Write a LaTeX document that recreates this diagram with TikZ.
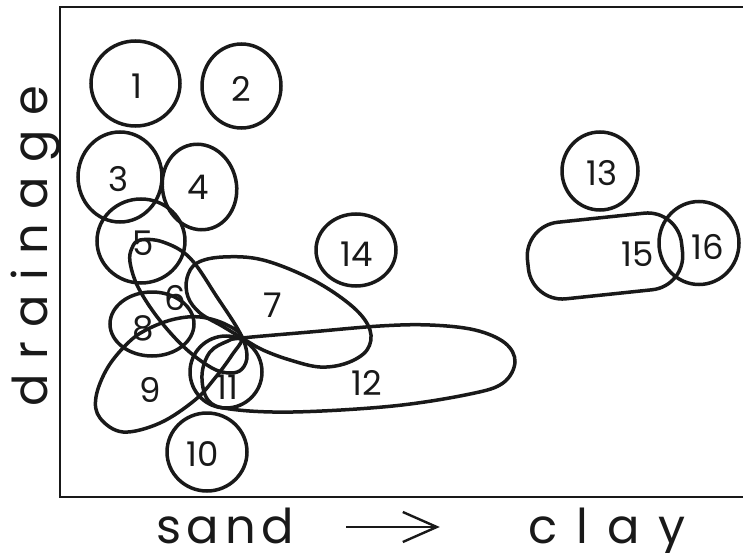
\documentclass[tikz,border=0pt]{standalone}
\usepackage{fontspec}
\setmainfont{Poppins}
\usetikzlibrary{arrows.meta}
\tikzset{
  zone/.style={draw=black!90, line width=3.5pt},
  frameline/.style={draw=black!90, line width=2.2pt},
  numlabel/.style={font=\fontsize{34}{34}\selectfont, text=black!90, inner sep=0pt},
  axislabel/.style={font=\fontsize{48}{48}\selectfont, text=black!90, inner sep=0pt, anchor=base},
  axisarrow/.style={-{Straight Barb[length=34pt, width=30pt]}, line width=2.4pt, black!90}
}

\begin{document}
\begin{tikzpicture}[x=1pt, y=-1pt]

\useasboundingbox (0,0) rectangle (743,553);

% Frame
\draw[frameline] (743,7) -- (60,7) -- (60,497) -- (743,497);

% Round zones
\draw[zone] (135.5,83.5) ellipse [x radius=44.5pt, y radius=42.5pt];
\draw[zone] (241.5,86)   ellipse [x radius=39.5pt, y radius=42pt];
\draw[zone] (120,177)    ellipse [x radius=42pt, y radius=45pt];
\draw[zone, rotate around={12:(199.5,187)}] (199.5,187) ellipse [x radius=37pt, y radius=43pt];
\draw[zone] (141,241)    ellipse [x radius=44pt, y radius=42pt];
\draw[zone] (152,324)    ellipse [x radius=42pt, y radius=32pt];
\draw[zone] (207,452)    ellipse [x radius=40pt, y radius=39pt];
\draw[zone] (226,372)    ellipse [x radius=36pt, y radius=36pt];
\draw[zone] (600,171)    ellipse [x radius=38pt, y radius=39pt];
\draw[zone] (356,250)    ellipse [x radius=40pt, y radius=36pt];
\draw[zone] (699,243)    ellipse [x radius=40pt, y radius=41.5pt];

% Long zones
\draw[zone] plot[smooth cycle, tension=0.6] coordinates {
  (140,240) (163,242) (190,258) (217,297) (240,333) (247,355) (242,369)
  (230,373) (212,368) (185,348) (158,318) (138,287) (130,262) (132,248)};
\draw[zone] plot[smooth cycle, tension=0.6] coordinates {
  (242,338) (222,326) (200,313) (188,297) (187,278) (197,263) (223,257)
  (263,260) (313,280) (353,307) (370,330) (367,350) (347,363) (320,367)
  (290,360) (263,350)};
\draw[zone] plot[smooth cycle, tension=0.6] coordinates {
  (150,328) (175,319) (200,317) (225,324) (242,337) (232,355) (215,378)
  (195,400) (160,423) (123,432) (100,418) (96,397) (108,367) (130,341)};
\draw[zone] plot[smooth cycle, tension=0.6] coordinates {
  (242,338) (310,332) (380,326) (430,325) (475,330) (505,343) (515,362)
  (503,383) (470,394) (393,406) (293,412) (230,409) (208,400) (202,375)
  (210,352) (228,341)};
\draw[zone, rounded corners=34pt, rotate around={6:(605,256)}]
  (527.5,217.5) rectangle (682.5,294.5);

% Labels
\node[numlabel] (l1)  at (137,86)  {1};
\node[numlabel] (l2)  at (241,89)  {2};
\node[numlabel] (l3)  at (119,179) {3};
\node[numlabel] (l4)  at (198,187) {4};
\node[numlabel] (l5)  at (143,243) {5};
\node[numlabel] (l6)  at (175,298) {6};
\node[numlabel] (l7)  at (273,305) {7};
\node[numlabel] (l8)  at (143,328) {8};
\node[numlabel] (l9)  at (150,390) {9};
\node[numlabel] (l10) at (203,454) {10};
\node[numlabel] (l11) at (227,387) {11};
\node[numlabel] (l12) at (367,383) {12};
\node[numlabel] (l13) at (602,173) {13};
\node[numlabel] (l14) at (357,254) {14};
\node[numlabel] (l15) at (638,254) {15};
\node[numlabel] (l16) at (708,247) {16};

% Axes
\node[axislabel, rotate=90] (drain) at (47,246) {\addfontfeature{LetterSpace=30}drainage};
\node[axislabel] (sand) at (225,543) {\addfontfeature{LetterSpace=12}sand};
\node[axislabel] (clay) at (607,543) {\addfontfeature{LetterSpace=40}clay};
\draw[axisarrow, shorten <=52pt, shorten >=88pt]
  ([yshift=16pt]sand.base east) -- ([yshift=16pt]clay.base west);

\end{tikzpicture}
\end{document}
